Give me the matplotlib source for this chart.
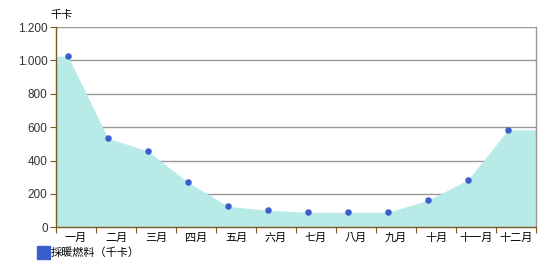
import matplotlib.pyplot as plt
from matplotlib.patches import Rectangle

plt.rcParams['font.family'] = ['Noto Sans CJK TC', 'DejaVu Sans']

# 月份与数值
months = ['一月', '二月', '三月', '四月', '五月', '六月',
          '七月', '八月', '九月', '十月', '十一月', '十二月']
fuel = [1025, 534, 456, 270, 126, 102, 90, 90, 90, 162, 284, 584]
yticks = [0, 200, 400, 600, 800, 1000, 1200]
ytick_labels = ['0', '200', '400', '600', '800', '1.000', '1.200']

brown = '#7a5a1e'
grid_c = '#999999'
fill_c = '#b8eae8'
dot_c = '#3a5fcd'

fig = plt.figure(figsize=(5.6, 2.7), dpi=100)
ax = fig.add_axes([56 / 560, 1 - 227.3 / 270, 480 / 560, 200.3 / 270])

n = len(months)
xs = [i + 0.3 for i in range(n)]
area_x = [0] + xs + [n]
area_y = [fuel[0]] + fuel + [fuel[-1]]
ax.fill_between(area_x, area_y, 0, color=fill_c, lw=0, zorder=2)
ax.scatter(xs, fuel, s=22, color=dot_c, zorder=4, lw=0)

ax.set_xlim(0, n)
ax.set_ylim(0, 1200)
ax.set_yticks(yticks)
ax.set_yticklabels(ytick_labels, family='Liberation Sans', fontsize=8.5, color='#333333')
for v in yticks[1:]:
    ax.axhline(v, color=grid_c, lw=1, zorder=1)

ax.set_xticks(range(n + 1))
ax.set_xticklabels([])
ax.set_xticks([i + 0.5 for i in range(n)], minor=True)
ax.set_xticklabels(months, minor=True, fontsize=8)
ax.tick_params(axis='x', which='minor', length=0, pad=4)
ax.tick_params(axis='x', which='major', length=4, color=brown, direction='out')
ax.tick_params(axis='y', length=4, color=brown, direction='out', pad=2)

ax.spines['left'].set_color(brown)
ax.spines['bottom'].set_color(brown)
ax.spines['right'].set_color(grid_c)
ax.spines['top'].set_visible(False)
for s in ax.spines.values():
    s.set_linewidth(1)
    s.set_zorder(5)

fig.text(50 / 560, 1 - 15 / 270, '千卡', fontsize=8, va='center', ha='left')
fig.patches.append(Rectangle((37 / 560, 1 - 259 / 270), 13 / 560, 13 / 270,
                             transform=fig.transFigure, color=dot_c, figure=fig))
fig.text(51 / 560, 1 - 253 / 270, '採暖燃料（千卡）', fontsize=8, va='center', ha='left')

fig.savefig('out.png', dpi=100)
